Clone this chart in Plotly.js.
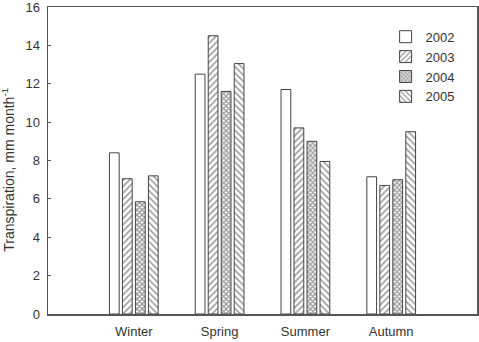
<!DOCTYPE html>
<html>
<head>
<meta charset="utf-8">
<script src="https://cdn.plot.ly/plotly-3.0.1.min.js"></script>
<style>
  html, body { margin: 0; padding: 0; background: #ffffff; }
  #chart { width: 479px; height: 342px; }
</style>
</head>
<body>
<div id="chart"></div>
<script>
// Seasonal transpiration per year (mm month^-1)
const seasons = ["Winter", "Spring", "Summer", "Autumn"];
const years = ["2002", "2003", "2004", "2005"];
const t2002 = [8.4, 12.5, 11.7, 7.15];
const t2003 = [7.05, 14.5, 9.7, 6.7];
const t2004 = [5.85, 11.6, 9.0, 7.0];
const t2005 = [7.2, 13.05, 7.95, 9.5];
const yTicks = [0, 2, 4, 6, 8, 10, 12, 14, 16];
const yTitle = "Transpiration, mm month<sup>-1</sup>";

const seriesValues = [t2002, t2003, t2004, t2005];
const patterns = [
  { shape: "" },
  { shape: "/", size: 4.5, solidity: 0.35 },
  { shape: "x", size: 3.5, solidity: 0.6 },
  { shape: "\\", size: 4.5, solidity: 0.35 }
];

const traces = years.map((yr, i) => ({
  type: "bar",
  name: yr,
  x: seasons,
  y: seriesValues[i],
  marker: {
    color: "#ffffff",
    line: { color: "#444444", width: 1 },
    pattern: Object.assign({ fgcolor: "#333333", bgcolor: "#ffffff", fillmode: "overlay" }, patterns[i])
  },
  hoverinfo: "x+y+name"
}));

const axisFont = { family: "Liberation Sans, Arial, sans-serif", size: 13, color: "#333333" };

const layout = {
  width: 479,
  height: 342,
  margin: { l: 48, r: 2, t: 7, b: 28 },
  paper_bgcolor: "#ffffff",
  plot_bgcolor: "#ffffff",
  barmode: "group",
  bargap: 0.394,
  bargroupgap: 0.25,
  showlegend: true,
  legend: {
    x: 0.787, y: 0.952, xanchor: "left", yanchor: "top",
    bgcolor: "rgba(0,0,0,0)",
    font: axisFont,
    tracegroupgap: 0,
    itemwidth: 30
  },
  xaxis: {
    type: "category",
    range: [-1, 4],
    showline: true, mirror: true, linecolor: "#555555", linewidth: 1.5,
    ticks: "", showgrid: false, zeroline: false,
    tickfont: axisFont,
    ticklabelstandoff: 5,
    fixedrange: true
  },
  yaxis: {
    range: [0, 16],
    tickvals: yTicks,
    ticktext: yTicks.map(String),
    showline: true, mirror: true, linecolor: "#555555", linewidth: 1.5,
    ticks: "inside", ticklen: 3, tickcolor: "#555555",
    showgrid: false, zeroline: false,
    tickfont: axisFont,
    ticklabelstandoff: 4,
    ticklabeloverflow: "allow",
    automargin: false,
    fixedrange: true
  },
  annotations: [{
    text: yTitle,
    xref: "paper", yref: "paper",
    x: -40 / 429, y: 0.47,
    xanchor: "center", yanchor: "middle",
    textangle: -90,
    showarrow: false,
    font: { family: "Liberation Sans, Arial, sans-serif", size: 14, color: "#333333" }
  }],
  font: axisFont
};

Plotly.newPlot("chart", traces, layout, { displayModeBar: false, staticPlot: true });
</script>
</body>
</html>
